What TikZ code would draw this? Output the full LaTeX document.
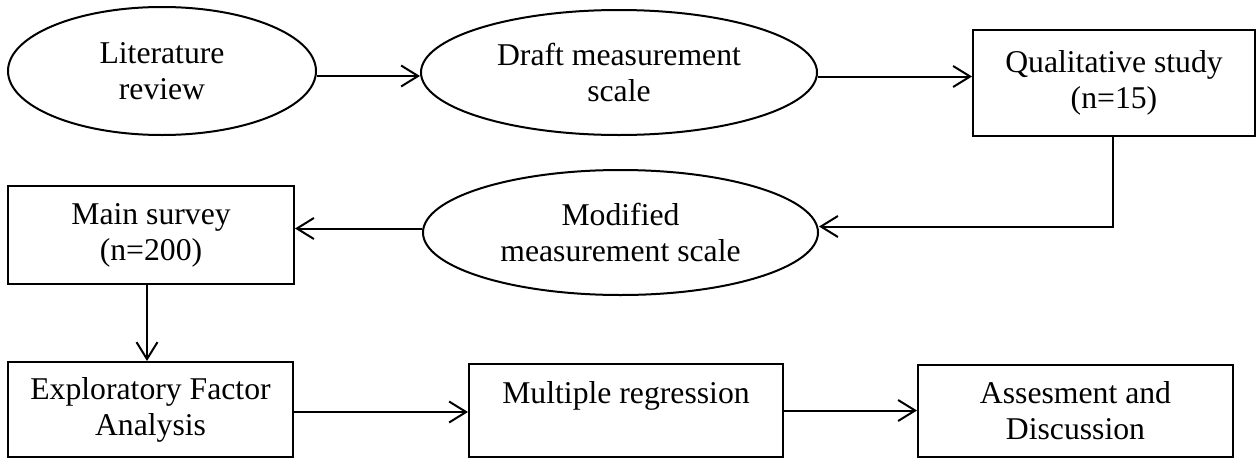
\documentclass[tikz,border=0pt]{standalone}
\usepackage{fontspec}
\setmainfont{Liberation Serif}
\usetikzlibrary{shapes.geometric,arrows.meta,calc}
\begin{document}
\begin{tikzpicture}[x=1pt,y=-1pt,
  every node/.style={font=\fontsize{31.7}{36}\selectfont, align=center, inner sep=0pt},
  oval/.style={ellipse, draw, line width=2pt},
  box/.style={rectangle, draw, line width=2pt},
  arr/.style={line width=2pt, -{Straight Barb[length=17pt,width=21pt,line width=2pt]}}]
\useasboundingbox (0,0) rectangle (1257,458);
\node[oval, minimum width=308pt, minimum height=128pt] (lit) at (162,71) {Literature\\review};
\node[oval, minimum width=396pt, minimum height=125pt] (draft) at (619,72.5) {Draft measurement\\scale};
\node[box, minimum width=282pt, minimum height=106pt] (qual) at (1114,83) {Qualitative study\\(n=15)};
\node[oval, minimum width=395pt, minimum height=125pt] (mod) at (620.5,232.5) {Modified\\measurement scale};
\node[box, minimum width=286pt, minimum height=98pt] (main) at (151,235) {Main survey\\(n=200)};
\node[box, minimum width=285pt, minimum height=95pt] (efa) at (150.5,409.5) {Exploratory Factor\\Analysis};
\node[box, minimum width=314pt, minimum height=93pt] (mr) at (626,410.5) {Multiple regression\\\mbox{}};
\node[box, minimum width=315pt, minimum height=92pt] (ass) at (1075.5,411) {Assesment and\\Discussion};
\draw[arr] ([yshift=-5pt]lit.east) -- ([yshift=-5pt]lit.east -| draft.west);
\draw[arr] ([yshift=-4pt]draft.east) -- ([yshift=-4pt]draft.east -| qual.west);
\draw[arr] ([xshift=-1pt]qual.south) |- ([yshift=6pt]mod.east);
\draw[arr] ([yshift=4pt]mod.west) -- ([yshift=4pt]mod.west -| main.east);
\draw[arr] ([xshift=-4pt]main.south) -- ([xshift=-4pt]main.south |- efa.north);
\draw[arr] ([yshift=-2.5pt]efa.east) -- ([yshift=-2.5pt]efa.east -| mr.west);
\draw[arr] (mr.east) -- (mr.east -| ass.west);
\end{tikzpicture}
\end{document}
